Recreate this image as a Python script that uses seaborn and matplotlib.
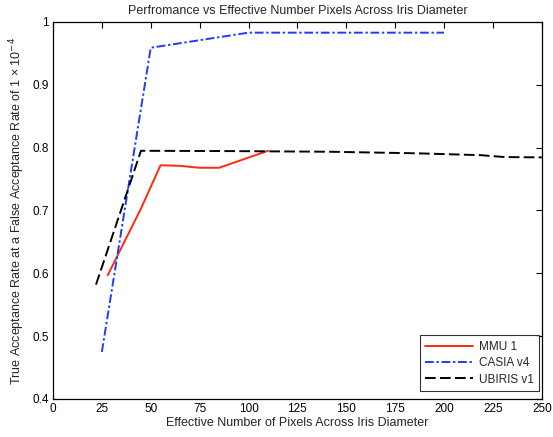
import matplotlib
matplotlib.use("Agg")
import matplotlib.pyplot as plt
import seaborn as sns
import pandas as pd

sns.set_style("white")
plt.rcParams['font.family'] = ['Liberation Sans', 'DejaVu Sans']

mmu_x = [28, 45, 55, 65, 75, 85, 110]
mmu_y = [0.597, 0.703, 0.772, 0.771, 0.768, 0.768, 0.795]

casia_x = [25, 50, 100, 200]
casia_y = [0.475, 0.959, 0.983, 0.983]

ubiris_x = [22, 45, 92, 141, 186, 219, 231, 250]
ubiris_y = [0.582, 0.795, 0.7945, 0.7935, 0.791, 0.788, 0.785, 0.7845]

series_names = ["MMU 1", "CASIA v4", "UBIRIS v1"]
xticks = [0, 25, 50, 75, 100, 125, 150, 175, 200, 225, 250]
yticks = [0.4, 0.5, 0.6, 0.7, 0.8, 0.9, 1.0]
ytick_labels = ["0.4", "0.5", "0.6", "0.7", "0.8", "0.9", "1"]

fig = plt.figure(figsize=(5.53, 4.37), dpi=100)
ax = fig.add_axes([0.0958, 0.087, 0.884, 0.8627])

styles = [
    (mmu_x, mmu_y, "#ff2a10", "-", None),
    (casia_x, casia_y, "#1a3cff", "-.", (4.5, 1.4, 1.2, 1.4)),
    (ubiris_x, ubiris_y, "black", "--", (5.5, 2.2)),
]
for (xs, ys, c, ls, dsh), name in zip(styles, series_names):
    df = pd.DataFrame({"x": xs, "y": ys})
    line_ax = sns.lineplot(data=df, x="x", y="y", ax=ax, color=c, linestyle=ls,
                           linewidth=1.4, label=name)
    if dsh is not None:
        ax.lines[-1].set_dashes(dsh)

ax.set_xlim(0, 250)
ax.set_ylim(0.4, 1.0)
ax.set_xticks(xticks)
ax.set_xticklabels([str(t) for t in xticks])
ax.set_yticks(yticks)
ax.set_yticklabels(ytick_labels)
ax.tick_params(direction="in", top=True, right=True, length=4, width=0.8,
               labelsize=8.5, colors="black", pad=3)
for s in ax.spines.values():
    s.set_color("black")
    s.set_linewidth(0.9)

ax.set_title("Perfromance vs Effective Number Pixels Across Iris Diameter",
             fontsize=9, pad=6)
ax.set_xlabel("Effective Number of Pixels Across Iris Diameter", fontsize=9, labelpad=1)
ax.set_ylabel("True Acceptance Rate at a False Acceptance Rate of 1 \u00d7 10$^{-4}$",
              fontsize=9, labelpad=4)

leg = ax.legend(loc="lower right", fontsize=8.5, frameon=True, fancybox=False,
                edgecolor="black", bbox_to_anchor=(0.995, 0.02),
                borderaxespad=0.0, handlelength=4.0,
                labelspacing=0.35, borderpad=0.5, handletextpad=0.5)
leg.get_frame().set_linewidth(0.8)

fig.savefig("out.png", dpi=100)
